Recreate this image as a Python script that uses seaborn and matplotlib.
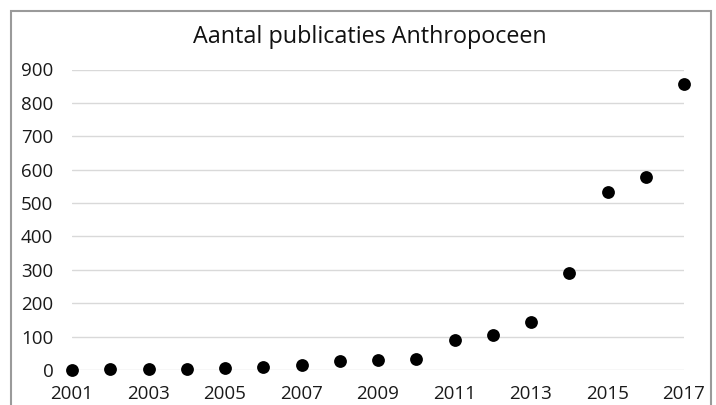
import matplotlib
matplotlib.use("Agg")
import matplotlib.pyplot as plt
import matplotlib.patches as mpatches
import pandas as pd
import seaborn as sns

# Data
years = [2001, 2002, 2003, 2004, 2005, 2006, 2007, 2008, 2009,
         2010, 2011, 2012, 2013, 2014, 2015, 2016, 2017]
publicaties = [0, 4, 4, 3, 7, 10, 15, 26, 29,
               32, 90, 105, 143, 291, 533, 579, 858]
x_ticks = [2001, 2003, 2005, 2007, 2009, 2011, 2013, 2015, 2017]
y_ticks = [0, 100, 200, 300, 400, 500, 600, 700, 800, 900]
titel = "Aantal publicaties Anthropoceen"

df = pd.DataFrame({"Jaar": years, "Publicaties": publicaties})

sns.set_theme(style="white")
plt.rcParams['font.family'] = ['Open Sans', 'DejaVu Sans']

fig = plt.figure(figsize=(7.16, 4.05), dpi=100)
ax = fig.add_axes([72 / 716, 35 / 405, 612 / 716, 300.5 / 405])

sns.scatterplot(data=df, x="Jaar", y="Publicaties", ax=ax, color="black",
                s=85, edgecolor="black", linewidth=0, clip_on=False, zorder=3)

ax.set_xlim(2001, 2017)
ax.set_ylim(0, 900)
ax.set_xticks(x_ticks)
ax.set_yticks(y_ticks)
ax.set_xticklabels([str(t) for t in x_ticks], fontsize=13.5, color="#1a1a1a")
ax.set_yticklabels([str(t) for t in y_ticks], fontsize=13.5, color="#1a1a1a")
ax.tick_params(axis="x", length=0, pad=10.5)
ax.tick_params(axis="y", length=0, pad=13.5)
ax.set_xlabel("")
ax.set_ylabel("")
ax.yaxis.grid(True, color="#d9d9d9", linewidth=1)
ax.xaxis.grid(False)
for side in ax.spines.values():
    side.set_visible(False)

fig.text(370 / 716, 1 - 37 / 405, titel, ha="center", va="center",
         fontsize=16.8, color="#111111")

# chart frame like in Excel
frame = mpatches.Rectangle((11 / 716, -0.1), 700 / 716, 1.1 - 11 / 405,
                           transform=fig.transFigure, fill=False,
                           edgecolor="#9a9a9a", linewidth=1.5)
fig.patches.append(frame)

fig.savefig("out.png", dpi=100)
